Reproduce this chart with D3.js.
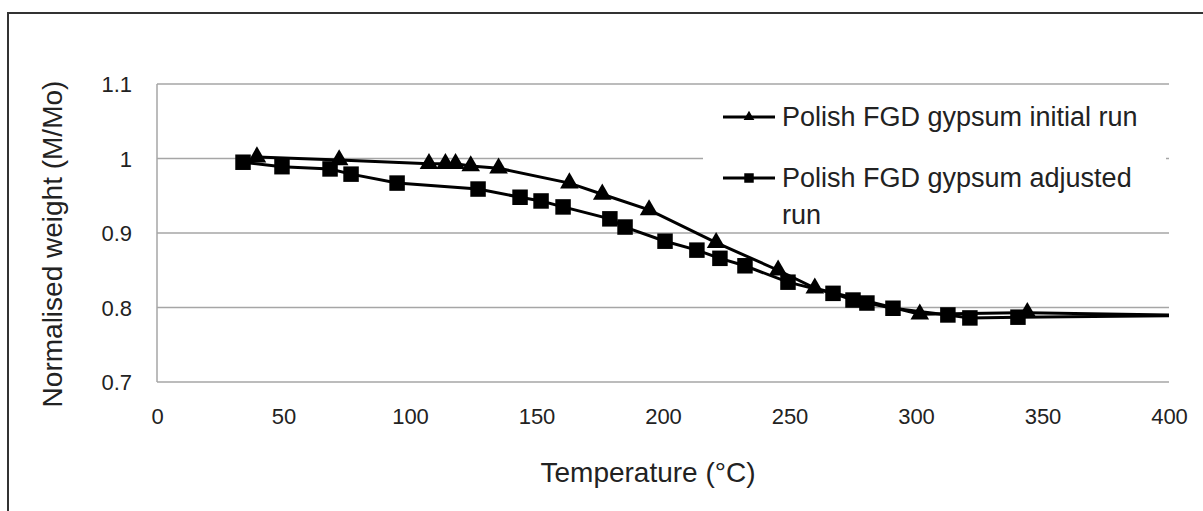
<!DOCTYPE html>
<html>
<head>
<meta charset="utf-8">
<script src="https://cdn.jsdelivr.net/npm/d3@7"></script>
<style>
  html, body { margin: 0; padding: 0; background: #fff; }
  svg { display: block; }
  text { font-family: "Liberation Sans", Arial, sans-serif; fill: #222; }
</style>
</head>
<body>
<svg id="chart" width="1203" height="511"></svg>
<script>
// ---- data ----
const xTicks = [0, 50, 100, 150, 200, 250, 300, 350, 400];
const yTicks = [0.7, 0.8, 0.9, 1.0, 1.1];
const yTickLabels = ["0.7", "0.8", "0.9", "1", "1.1"];

const initialTemp   = [39.5, 72, 107.5, 114, 118, 124, 135, 163, 176, 194.5, 221, 245.5, 260, 301.5, 344, 400];
const initialWeight = [1.002, 0.998, 0.993, 0.993, 0.993, 0.990, 0.987, 0.967, 0.952, 0.931, 0.887, 0.850, 0.826, 0.791, 0.793, 0.790];

const adjustedTemp   = [34, 49.4, 68.4, 76.7, 94.9, 126.9, 143.5, 151.8, 160.5, 179, 185, 200.8, 213.4, 222.5, 232.4, 249.4, 267.2, 275.1, 280.6, 290.9, 312.6, 321.3, 340.3, 400];
const adjustedWeight = [0.995, 0.989, 0.986, 0.979, 0.967, 0.959, 0.948, 0.943, 0.935, 0.919, 0.908, 0.889, 0.877, 0.866, 0.856, 0.834, 0.819, 0.810, 0.806, 0.799, 0.790, 0.786, 0.787, 0.789];

const seriesNames = ["Polish FGD gypsum initial run", "Polish FGD gypsum adjusted run"];
const xTitle = "Temperature (°C)";
const yTitle = "Normalised weight (M/Mo)";

// ---- layout ----
const svg = d3.select("#chart");
const pL = 157, pR = 1169, pT = 84, pB = 382;

const x = d3.scaleLinear().domain([0, 400]).range([pL, pR]);
const y = d3.scaleLinear().domain([0.7, 1.1]).range([pB, pT]);

// outer frame
svg.append("rect").attr("x", 8).attr("y", 13).attr("width", 1210).attr("height", 520)
  .attr("fill", "none").attr("stroke", "#333").attr("stroke-width", 2);

// gridlines
svg.append("g").selectAll("line").data(yTicks).join("line")
  .attr("x1", pL).attr("x2", pR)
  .attr("y1", d => y(d)).attr("y2", d => y(d))
  .attr("stroke", "#a6a6a6").attr("stroke-width", 1.5);

// left axis line
svg.append("line").attr("x1", pL).attr("x2", pL).attr("y1", pT).attr("y2", pB)
  .attr("stroke", "#a6a6a6").attr("stroke-width", 1.5);

// axes (labels only)
const yAxis = d3.axisLeft(y).tickValues(yTicks).tickFormat((d, i) => yTickLabels[i]).tickSize(0).tickPadding(25);
const gy = svg.append("g").attr("transform", `translate(${pL},0)`).call(yAxis);
gy.select(".domain").remove();
gy.selectAll("text").style("font-size", "22px").attr("fill", "#222").attr("dy", "0.35em");

const xAxis = d3.axisBottom(x).tickValues(xTicks).tickFormat(d3.format("d")).tickSize(0).tickPadding(26);
const gx = svg.append("g").attr("transform", `translate(0,${pB})`).call(xAxis);
gx.select(".domain").remove();
gx.selectAll("text").style("font-size", "22px").attr("fill", "#222");

// titles
svg.append("text").attr("x", 648).attr("y", 482)
  .attr("text-anchor", "middle").style("font-size", "28px").text(xTitle);
svg.append("text").attr("transform", `translate(62,244) rotate(-90)`)
  .attr("text-anchor", "middle").style("font-size", "28px").text(yTitle);

// legend background
svg.append("rect").attr("x", 703).attr("y", 96).attr("width", 463).attr("height", 132).attr("fill", "#fff");

// series
const line = d3.line().x(d => x(d[0])).y(d => y(d[1]));
const initial = d3.zip(initialTemp, initialWeight);
const adjusted = d3.zip(adjustedTemp, adjustedWeight);

const plot = svg.append("g");
plot.append("path").datum(initial).attr("d", line).attr("fill", "none").attr("stroke", "#000").attr("stroke-width", 3);
plot.append("path").datum(adjusted).attr("d", line).attr("fill", "none").attr("stroke", "#000").attr("stroke-width", 3);

const tri = d3.symbol().type(d3.symbolTriangle).size(150);
const sq = d3.symbol().type(d3.symbolSquare).size(240);

// markers (last point in each series is the line end, shown without marker)
plot.append("g").selectAll("path").data(adjusted.slice(0, -1)).join("path")
  .attr("transform", d => `translate(${x(d[0])},${y(d[1])})`).attr("d", sq).attr("fill", "#000");
plot.append("g").selectAll("path").data(initial.slice(0, -1)).join("path")
  .attr("transform", d => `translate(${x(d[0])},${y(d[1])})`).attr("d", tri).attr("fill", "#000");

// legend
const lg = svg.append("g");
const rows = [{ y: 117, sym: d3.symbol().type(d3.symbolTriangle).size(50) }, { y: 178, sym: d3.symbol().type(d3.symbolSquare).size(90) }];
rows.forEach((r, i) => {
  lg.append("line").attr("x1", 723).attr("x2", 775).attr("y1", r.y).attr("y2", r.y).attr("stroke", "#000").attr("stroke-width", 3);
  lg.append("path").attr("transform", `translate(749,${r.y})`).attr("d", r.sym).attr("fill", "#000");
});
lg.append("text").attr("x", 782).attr("y", 117).attr("dy", "0.35em").style("font-size", "27px").text(seriesNames[0]);
const t2 = lg.append("text").attr("x", 782).attr("y", 178).attr("dy", "0.35em").style("font-size", "27px");
t2.append("tspan").attr("x", 782).text("Polish FGD gypsum adjusted");
t2.append("tspan").attr("x", 782).attr("dy", "1.37em").text("run");
</script>
</body>
</html>
